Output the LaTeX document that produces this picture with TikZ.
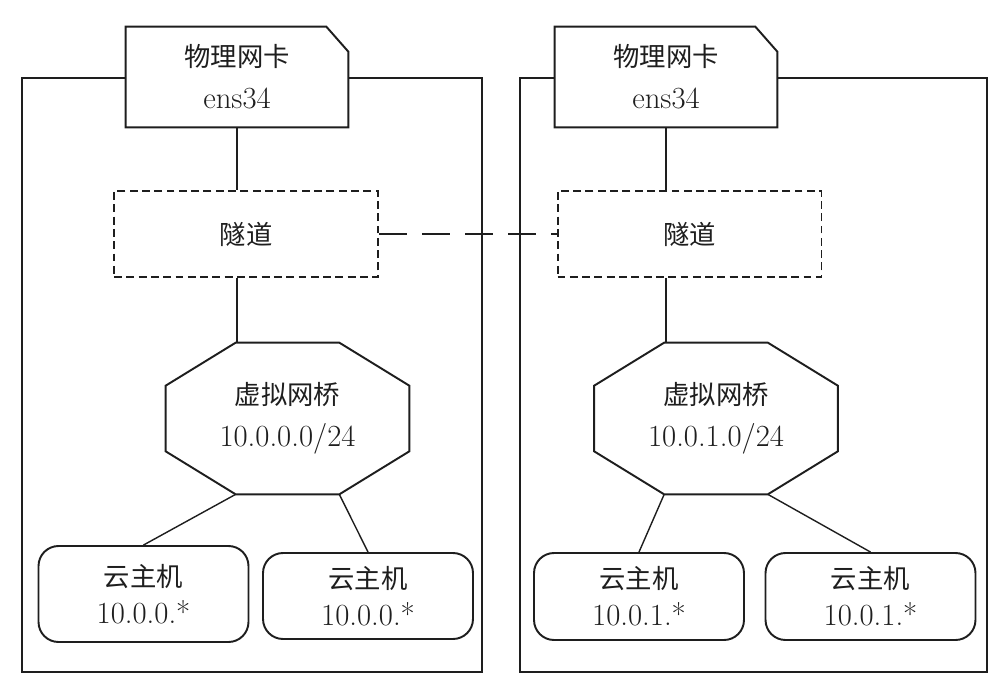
\documentclass[tikz,border=0pt]{standalone}
\usepackage{fontspec}
\newfontfamily\cjk{Noto Sans CJK SC}
\usetikzlibrary{calc}
\definecolor{ink}{RGB}{30,30,30}
\tikzset{
  hostbox/.style={draw=ink,line width=1.6pt},
  outline/.style={draw=ink,line width=1.1pt,line join=miter},
  lbl/.style={inner sep=0pt,align=center,text=ink,font=\fontsize{17.5}{24}\selectfont},
  nic/.style={lbl,fill=white,minimum width=4.44cm,minimum height=2cm},
  tunnel/.style={lbl,draw=ink,line width=1.1pt,dash pattern=on 4.5pt off 2.5pt,
    minimum width=5.28cm,minimum height=1.72cm},
  bridge/.style={lbl,minimum width=4.86cm,minimum height=3.02cm},
  vm/.style={lbl,draw=ink,line width=1.1pt,rounded corners=0.4cm,minimum width=4.2cm,
    font=\fontsize{17.5}{21}\selectfont},
  wire/.style={draw=ink,line width=0.8pt},
  link/.style={wire,line width=0.9pt,dash pattern=on 16pt off 8.5pt},
}
\newcommand{\zh}[1]{{\cjk\fontsize{15}{15}\selectfont #1}}
\newcommand{\nicedge}[1]{%
  \draw[outline] (#1.south west) -- (#1.north west) -- ($(#1.north east)+(-22,0)$)
    -- ($(#1.north east)+(0,25)$) -- (#1.south east) -- cycle;}
\newcommand{\octedge}[1]{%
  \coordinate (#1-bl) at ($(#1.south west)+(70,0)$);
  \coordinate (#1-br) at ($(#1.south east)+(-70,0)$);
  \draw[outline] ($(#1.north west)+(70,0)$) -- ($(#1.north east)+(-70,0)$)
    -- ($(#1.north east)+(0,43)$) -- ($(#1.south east)+(0,-43)$) -- (#1-br)
    -- (#1-bl) -- ($(#1.south west)+(0,-43)$) -- ($(#1.north west)+(0,43)$) -- cycle;}

\begin{document}
\begin{tikzpicture}[x=0.02cm,y=-0.02cm]
\useasboundingbox (0,0) rectangle (997,676);
% the two hosts
\draw[hostbox] (22,78) rectangle (482,672);
\draw[hostbox] (520,78) rectangle (987,672);
% nic, tunnel, bridge
\node[nic] (nic1) at (237,77) {\zh{物理网卡}\\ens34};
\node[nic] (nic2) at (666,77) {\zh{物理网卡}\\ens34};
\nicedge{nic1} \nicedge{nic2}
\node[tunnel] (tun1) at (246,234) {\zh{隧道}};
\node[tunnel] (tun2) at (689.5,234) {\zh{隧道}};
\node[bridge] (br1) at (287.5,418.5) {\zh{虚拟网桥}\\10.0.0.0/24};
\node[bridge] (br2) at (716,418.5) {\zh{虚拟网桥}\\10.0.1.0/24};
\octedge{br1} \octedge{br2}
% vms
\foreach \n/\p/\h/\ip in {vm1/{143.5,594}/1.92/10.0.0.*,vm2/{368,596}/1.72/10.0.0.*,
    vm3/{639,596.5}/1.74/10.0.1.*,vm4/{870.5,596.5}/1.74/10.0.1.*}
  \node[vm,minimum height=\h cm] (\n) at (\p) {\zh{云主机}\\\ip};
% wires
\foreach \i in {1,2}{
  \draw[wire] (nic\i.south) -- (nic\i.south |- tun\i.north);
  \draw[wire] (nic\i.south |- tun\i.south) -- (nic\i.south |- br\i.north);}
\draw[wire] (br1-bl) -- (vm1.north);
\draw[wire] (br1-br) -- (vm2.north);
\draw[wire] (br2-bl) -- (vm3.north);
\draw[wire] (br2-br) -- (vm4.north);
\draw[link] (tun1.east) -- (tun2.west);
\end{tikzpicture}
\end{document}
